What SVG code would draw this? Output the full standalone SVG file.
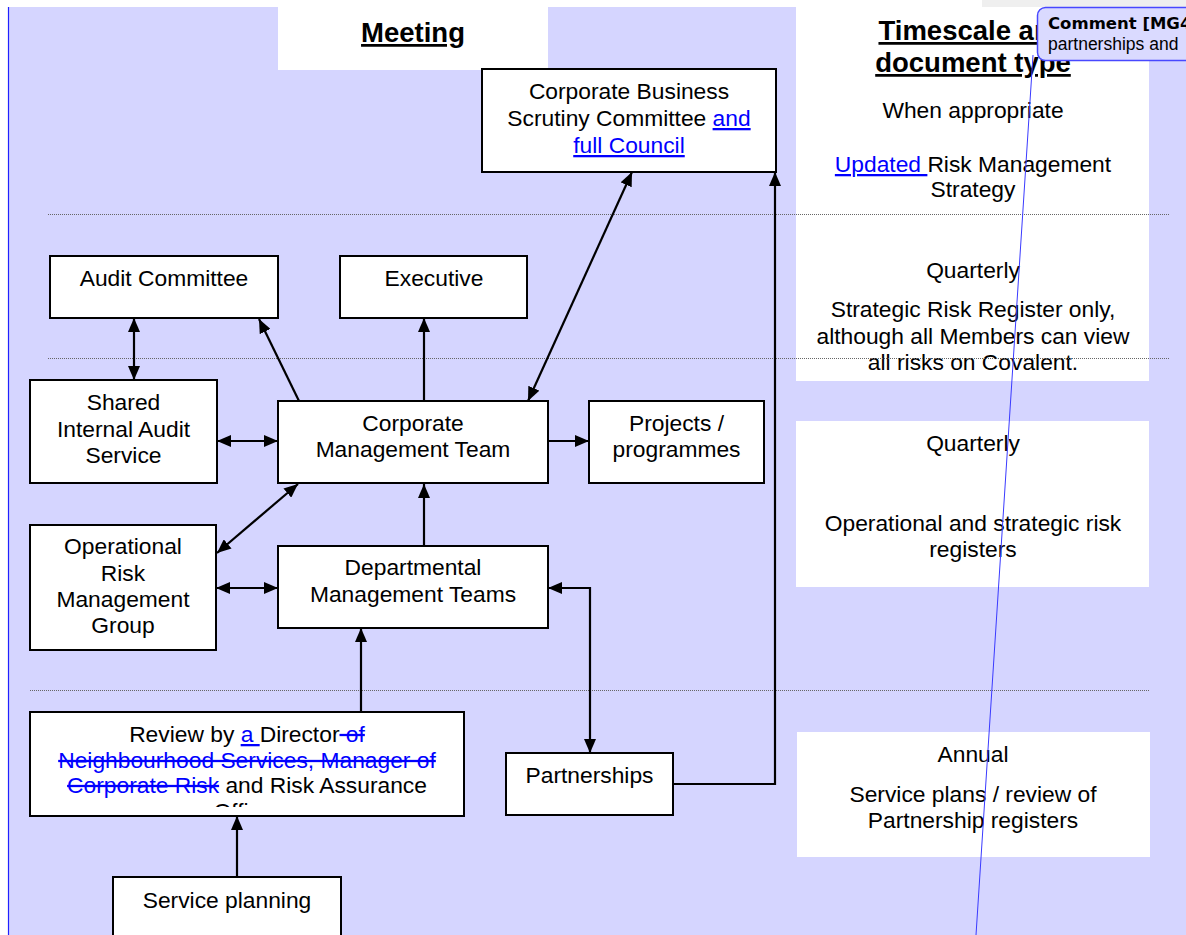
<svg xmlns="http://www.w3.org/2000/svg" width="1186" height="935" viewBox="0 0 1186 935">
<defs>
<style>
.t{font-family:"Liberation Sans",Arial,sans-serif;font-size:22.8px;fill:#000;text-anchor:middle}
.h{font-family:"Liberation Sans",Arial,sans-serif;font-size:27.5px;font-weight:bold;fill:#000;text-anchor:middle;text-decoration:underline}
.box{fill:#fff;stroke:#000;stroke-width:2}
.pane{fill:#fff}
.dot{stroke:#666;stroke-width:1;stroke-dasharray:1 1;fill:none}
.c{stroke:#000;stroke-width:2.2;fill:none}
.ins{fill:#0000ff;text-decoration:underline}
.del{fill:#0000ff;text-decoration:line-through}
</style>
<marker id="ah" viewBox="0 0 14 12" refX="14" refY="6" markerWidth="14" markerHeight="12" orient="auto-start-reverse" markerUnits="userSpaceOnUse">
<path d="M0,0 L14,6 L0,12 z" fill="#000"/>
</marker>
<clipPath id="revclip"><rect x="30" y="712" width="434" height="95"/></clipPath>
</defs>

<rect x="0" y="0" width="1186" height="935" fill="#fff"/>
<rect x="982" y="0" width="204" height="7" fill="#efefef"/>
<rect x="8" y="7" width="1178" height="928" fill="#d5d5ff"/>
<line x1="8.5" y1="7" x2="8.5" y2="935" stroke="#2020ff" stroke-width="1.2"/>

<g id="headers">
<rect class="pane" x="278" y="7" width="270" height="63"/>
<text class="h" x="413" y="42">Meeting</text>
<rect class="pane" x="796" y="7" width="353" height="374"/>
<text class="h" x="973" y="40">Timescale and</text>
<text class="h" x="973" y="72">document type</text>
</g>

<g id="timescale-1">
<text class="t" x="973" y="118">When appropriate</text>
<text class="t" x="973" y="172"><tspan class="ins">Updated </tspan>Risk Management</text>
<text class="t" x="973" y="197">Strategy</text>
<text class="t" x="973" y="278">Quarterly</text>
<text class="t" x="973" y="317">Strategic Risk Register only,</text>
<text class="t" x="973" y="344">although all Members can view</text>
<text class="t" x="973" y="370">all risks on Covalent.</text>
</g>

<g id="timescale-2">
<rect class="pane" x="796" y="421" width="353" height="166"/>
<text class="t" x="973" y="451">Quarterly</text>
<text class="t" x="973" y="531">Operational and strategic risk</text>
<text class="t" x="973" y="557">registers</text>
</g>

<g id="timescale-3">
<rect class="pane" x="797" y="732" width="353" height="125"/>
<text class="t" x="973" y="762">Annual</text>
<text class="t" x="973" y="802">Service plans / review of</text>
<text class="t" x="973" y="828">Partnership registers</text>
</g>

<g id="separators">
<line class="dot" x1="48" y1="214.5" x2="1169" y2="214.5"/>
<line class="dot" x1="48" y1="358.5" x2="1169" y2="358.5"/>
<line class="dot" x1="30" y1="690.5" x2="1150" y2="690.5"/>
</g>

<g id="connectors">
<line class="c" x1="134" y1="318" x2="134" y2="380" marker-start="url(#ah)" marker-end="url(#ah)"/>
<line class="c" x1="299" y1="401" x2="259" y2="319" marker-end="url(#ah)"/>
<line class="c" x1="424" y1="401" x2="424" y2="318" marker-end="url(#ah)"/>
<line class="c" x1="528" y1="401" x2="632" y2="172" marker-start="url(#ah)" marker-end="url(#ah)"/>
<line class="c" x1="217" y1="441" x2="278" y2="441" marker-start="url(#ah)" marker-end="url(#ah)"/>
<line class="c" x1="548" y1="441" x2="589" y2="441" marker-end="url(#ah)"/>
<line class="c" x1="298" y1="484" x2="217" y2="553" marker-start="url(#ah)" marker-end="url(#ah)"/>
<line class="c" x1="424" y1="546" x2="424" y2="484" marker-end="url(#ah)"/>
<line class="c" x1="216" y1="588" x2="278" y2="588" marker-start="url(#ah)" marker-end="url(#ah)"/>
<line class="c" x1="361" y1="712" x2="361" y2="628" marker-end="url(#ah)"/>
<path class="c" d="M548,588 H590 V753" marker-start="url(#ah)" marker-end="url(#ah)"/>
<path class="c" d="M673,784 H775 V172" marker-end="url(#ah)"/>
<line class="c" x1="237" y1="877" x2="237" y2="816" marker-end="url(#ah)"/>
</g>

<g id="cbsc">
<rect class="box" x="482" y="69" width="294" height="103"/>
<text class="t" x="629" y="99">Corporate Business</text>
<text class="t" x="629" y="126">Scrutiny Committee <tspan class="ins">and</tspan></text>
<text class="t" x="629" y="153"><tspan class="ins">full Council</tspan></text>
</g>

<g id="audit-committee">
<rect class="box" x="50" y="256" width="228" height="62"/>
<text class="t" x="164" y="286">Audit Committee</text>
</g>

<g id="executive">
<rect class="box" x="340" y="256" width="187" height="62"/>
<text class="t" x="434" y="286">Executive</text>
</g>

<g id="siac">
<rect class="box" x="30" y="380" width="187" height="103"/>
<text class="t" x="123.5" y="410">Shared</text>
<text class="t" x="123.5" y="437">Internal Audit</text>
<text class="t" x="123.5" y="463">Service</text>
</g>

<g id="cmt">
<rect class="box" x="278" y="401" width="270" height="82"/>
<text class="t" x="413" y="431">Corporate</text>
<text class="t" x="413" y="457">Management Team</text>
</g>

<g id="projects">
<rect class="box" x="589" y="401" width="175" height="82"/>
<text class="t" x="676.5" y="431">Projects /</text>
<text class="t" x="676.5" y="457">programmes</text>
</g>

<g id="ormg">
<rect class="box" x="30" y="525" width="186" height="125"/>
<text class="t" x="123" y="554">Operational</text>
<text class="t" x="123" y="581">Risk</text>
<text class="t" x="123" y="607">Management</text>
<text class="t" x="123" y="633">Group</text>
</g>

<g id="dmt">
<rect class="box" x="278" y="546" width="270" height="82"/>
<text class="t" x="413" y="575">Departmental</text>
<text class="t" x="413" y="602">Management Teams</text>
</g>

<g id="partnerships">
<rect class="box" x="506" y="753" width="167" height="62"/>
<text class="t" x="589.5" y="783">Partnerships</text>
</g>

<g id="review">
<rect class="box" x="30" y="712" width="434" height="104"/>
<text class="t" x="247" y="742">Review by <tspan class="ins">a </tspan>Director<tspan class="del"> of</tspan></text>
<text class="t" x="247" y="768"><tspan class="del">Neighbourhood Services, Manager of</tspan></text>
<text class="t" x="247" y="793"><tspan class="del">Corporate Risk</tspan> and Risk Assurance</text>
<text class="t" x="247" y="819" clip-path="url(#revclip)">Officer</text>
</g>

<g id="service-planning">
<rect class="box" x="113" y="877" width="228" height="70"/>
<text class="t" x="227" y="908">Service planning</text>
</g>

<g id="comment">
<line x1="1033" y1="55" x2="976" y2="935" stroke="#3a3aff" stroke-width="1"/>
<rect x="1037.5" y="7.5" width="160" height="53" rx="8" ry="8" fill="#dadaff" stroke="#4848ff" stroke-width="1.5"/>
<text x="1048" y="29" font-family="'DejaVu Sans',Verdana,sans-serif" font-size="16.5" font-weight="bold" fill="#000">Comment [MG4</text>
<text x="1048" y="50" font-family="'Liberation Sans',Arial,sans-serif" font-size="17.5" fill="#000">partnerships and</text>
</g>
</svg>
